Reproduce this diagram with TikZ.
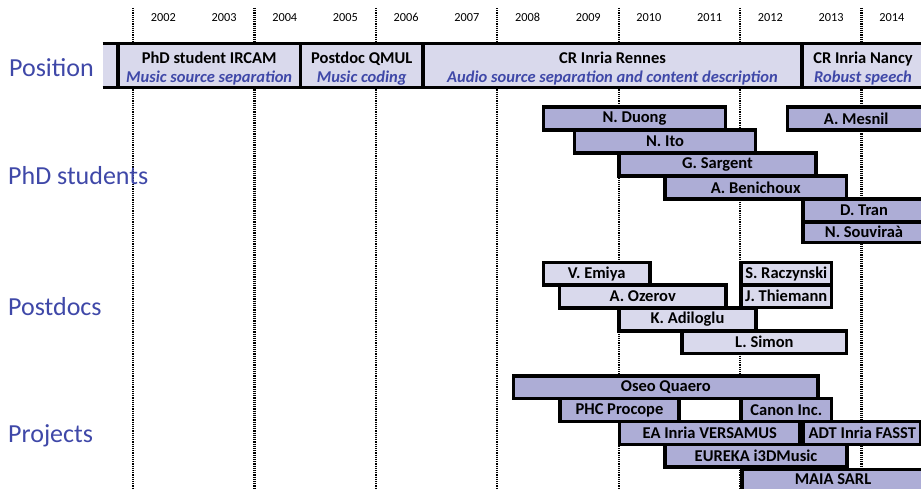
\documentclass[tikz,border=0pt]{standalone}
\usepackage{fontspec}
\setmainfont{Carlito}
\definecolor{dkfill}{RGB}{173,173,214}
\definecolor{ltfill}{RGB}{217,217,236}
\definecolor{lblue}{RGB}{63,72,168}
\newcommand\tbx[7]{\node[#1, minimum width={(#5)-(#3)}, minimum height={(#6)-(#4)}]
  (#2) at ({((#3)+(#5))/2},{((#4)+(#6))/2}) {#7};}
\begin{document}
\begin{tikzpicture}[x=1pt,y=-1pt,
  bx/.style={draw=black, line width=3.4pt, inner sep=0pt,
    font=\bfseries\fontsize{16.5}{19}\selectfont, align=center},
  dk/.style={bx, fill=dkfill},
  lt/.style={bx, fill=ltfill},
  grp/.style={font=\fontsize{26}{30}\selectfont, text=lblue, anchor=west, inner sep=0pt},
  yr/.style={font=\fontsize{12.3}{14}\selectfont, inner sep=0pt},
  tickline/.style={line width=2.2pt, dash pattern=on 1.2pt off 1pt},
  bold/.style={font=\bfseries\fontsize{16.5}{19}\selectfont, inner sep=0pt, align=center}]
\useasboundingbox (0,0) rectangle (921,489);
\clip (0,0) rectangle (921,489);

% dotted grid lines
\foreach \i in {0,...,6}{
  \coordinate (t\i a) at ({133+121.4*\i},8);
  \coordinate (t\i b) at ({133+121.4*\i},489);
  \draw[tickline] (t\i a) -- (t\i b);
}
% years
\foreach \yy [count=\k from 0] in {2002,...,2014}
  \node[yr] (y\yy) at ({133+60.7*(\k+0.5)},17.5) {\yy};

% row labels
\node[grp] (lpos) at (9,68) {Position};
\node[grp] (lphd) at (8,176) {PhD students};
\node[grp] (lpd) at (8,307) {Postdocs};
\node[grp] (lprj) at (8,436) {Projects};

% position bar
\fill[ltfill] (102.5,43.5) rectangle (118,87.5);
\draw[line width=3.4pt] (102.5,43.5) -- (118,43.5) (102.5,87.5) -- (118,87.5);
\tbx{lt}{ircam}{118}{43.5}{300.5}{87.5}{}
\tbx{lt}{qmul}{300.5}{43.5}{423}{87.5}{}
\tbx{lt}{rennes}{423}{43.5}{802}{87.5}{}
\tbx{lt}{nancy}{802}{43.5}{925}{87.5}{}
\node[bold] (ircamt) at (209.2,68.5) {PhD student IRCAM\\\textit{\color{lblue}Music source separation}};
\node[bold] (qmult) at (361.7,68.5) {Postdoc QMUL\\\textit{\color{lblue}Music coding}};
\node[bold] (rennest) at (612.5,68.5) {CR Inria Rennes\\\textit{\color{lblue}Audio source separation and content description}};
\node[bold] (nancyt) at (863,68.5) {CR Inria Nancy\\\textit{\color{lblue}Robust speech}};

% PhD students
\tbx{dk}{duong}{543.5}{107}{725.5}{130}{N. Duong}
\tbx{dk}{mesnil}{787.5}{107}{925}{130}{A. Mesnil}
\tbx{dk}{ito}{574.5}{130}{755.5}{153}{N. Ito}
\tbx{dk}{sargent}{619}{153}{816}{176}{G. Sargent}
\tbx{dk}{benichoux}{665}{176}{846.5}{199}{A. Benichoux}
\tbx{dk}{tran}{803}{199}{925}{222}{D. Tran}
\tbx{dk}{souvi}{803}{222}{925}{242.5}{N. Souviraà}

% Postdocs
\tbx{lt}{emiya}{543.5}{262.5}{650}{285}{V. Emiya}
\tbx{lt}{raczy}{741}{262.5}{831.5}{285}{S. Raczynski}
\tbx{lt}{ozerov}{559.5}{285}{726}{308}{A. Ozerov}
\tbx{lt}{thiemann}{741}{285}{831.5}{307.5}{J. Thiemann}
\tbx{lt}{adiloglu}{619}{308}{756}{331}{K. Adiloglu}
\tbx{lt}{simon}{682}{331}{846.5}{353.5}{L. Simon}

% Projects
\tbx{dk}{quaero}{513.5}{376}{818}{398.5}{Oseo Quaero}
\tbx{dk}{procope}{560}{398.5}{679}{421.5}{PHC Procope}
\tbx{dk}{canon}{741}{398.5}{831.5}{421.5}{Canon Inc.}
\tbx{dk}{versamus}{619.5}{421.5}{800}{444.5}{EA Inria VERSAMUS}
\tbx{dk}{fasst}{803.5}{421.5}{921}{444.5}{ADT Inria FASST}
\tbx{dk}{eureka}{665}{444.5}{847}{467}{EUREKA i3DMusic}
\tbx{dk}{maia}{742}{469.5}{925}{495}{}
\node[bold] (maiat) at (833,479) {MAIA SARL};
\end{tikzpicture}
\end{document}
